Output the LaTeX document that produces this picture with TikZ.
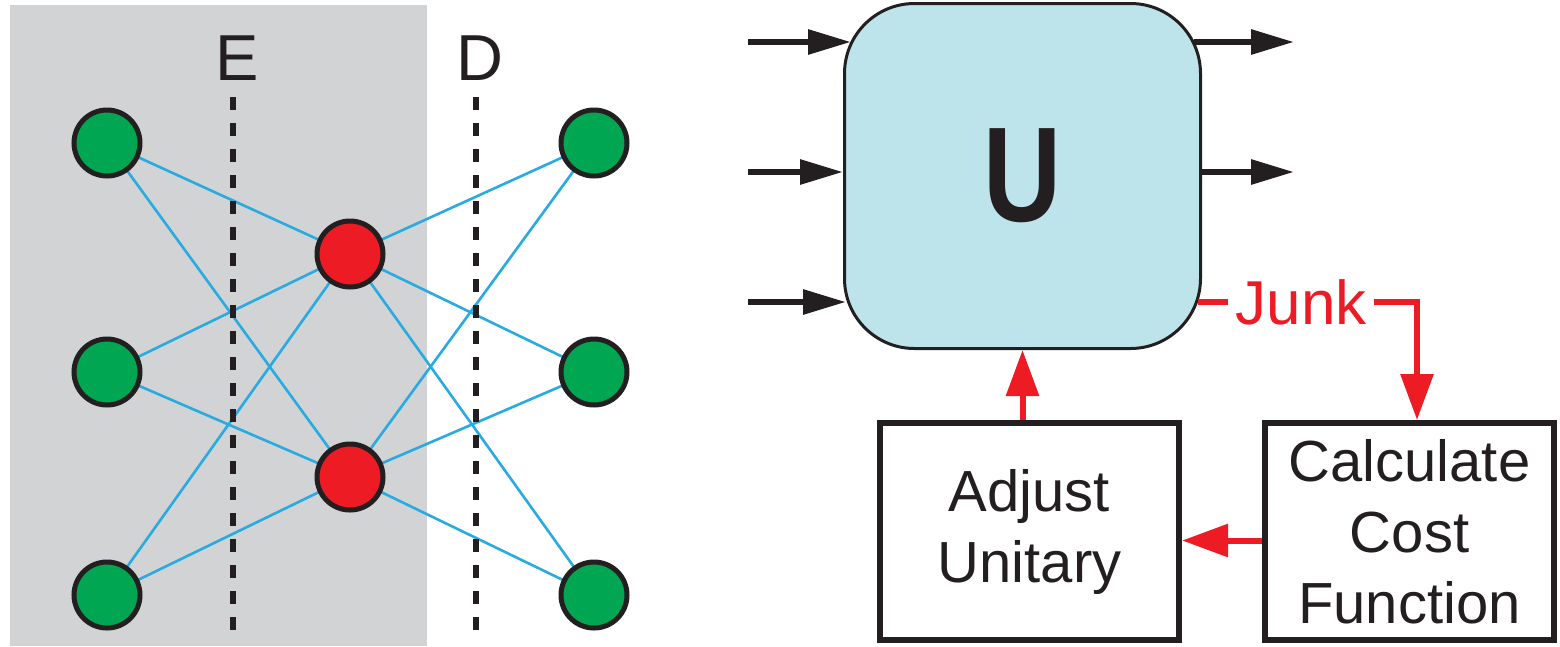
\documentclass[tikz,border=0pt]{standalone}
\usepackage{fontspec}
\setmainfont{Liberation Sans}
\usetikzlibrary{arrows.meta,backgrounds}

\definecolor{panelgray}{HTML}{D1D3D4}
\definecolor{qgreen}{HTML}{00A651}
\definecolor{qred}{HTML}{ED1C24}
\definecolor{linkblue}{HTML}{29ABE2}
\definecolor{ufill}{HTML}{BDE3EB}
\definecolor{ink}{HTML}{231F20}

\tikzset{
  qubit/.style={circle, draw=ink, line width=5pt, minimum size=66pt, inner sep=0pt},
  gnode/.style={qubit, fill=qgreen},
  rnode/.style={qubit, fill=qred},
  link/.style={linkblue, line width=2.6pt},
  cutline/.style={ink, line width=6pt, dash pattern=on 13pt off 13pt},
  cutlabel/.style={text=ink, font=\fontsize{65}{65}\selectfont, inner sep=0pt},
  ubox/.style={draw=ink, fill=ufill, line width=3pt, rounded corners=70pt,
    minimum width=356pt, minimum height=345pt, inner sep=0pt,
    font=\bfseries\fontsize{135}{135}\selectfont, text=ink},
  stepbox/.style={draw=ink, line width=6pt, inner sep=0pt, align=center,
    minimum height=217pt, font=\fontsize{58}{71}\selectfont, text=ink},
  wire/.style={ink, line width=6pt, -{Triangle[length=43pt,width=24pt]}},
  fb/.style={qred, line width=6pt},
  fbarrow/.style={fb, -{Triangle[length=46pt,width=32pt]}},
  junktext/.style={text=qred, font=\fontsize{62}{62}\selectfont, inner ysep=0pt, inner xsep=7pt}
}

\begin{document}
\begin{tikzpicture}[x=1pt,y=-1pt]
\useasboundingbox (0,0) rectangle (1560,646);

% shaded half of the network
\begin{pgfonlayer}{background}
  \fill[panelgray] (10,5) rectangle (427,646);
\end{pgfonlayer}

% network nodes
\node[gnode] (l1) at (107,143) {};
\node[gnode] (l2) at (107,372) {};
\node[gnode] (l3) at (107,595) {};
\node[rnode] (r1) at (350,254) {};
\node[rnode] (r2) at (350,477) {};
\node[gnode] (o1) at (594,143) {};
\node[gnode] (o2) at (594,372) {};
\node[gnode] (o3) at (594,595) {};

% cut labels
\node[cutlabel] (elab) at (237,58) {E};
\node[cutlabel] (dlab) at (480,58) {D};
\coordinate (etop) at (233,97);
\coordinate (ebot) at (233,635);
\coordinate (dtop) at (476,97);
\coordinate (dbot) at (476,635);

\begin{pgfonlayer}{background}
  \foreach \g in {l1,l2,l3,o1,o2,o3}{
    \draw[link] (\g.center) -- (r1.center);
    \draw[link] (\g.center) -- (r2.center);
  }
  \draw[cutline] (etop) -- (ebot);
  \draw[cutline] (dtop) -- (dbot);
\end{pgfonlayer}

% unitary block
\node[ubox] (U) at (1022.5,176) {\scalebox{0.8}[1]{U}};

\coordinate (in1) at (748,42);
\coordinate (in2) at (748,172);
\coordinate (in3) at (748,302);
\coordinate (out1) at (1294,42);
\coordinate (out2) at (1294,172);

\draw[wire, shorten >=-8pt] (in1) -- (in1 -| U.west);
\draw[wire] (in2) -- (in2 -| U.west);
\draw[wire, shorten >=-3pt] (in3) -- (in3 -| U.west);
\draw[wire, shorten <=-8pt] (out1 -| U.east) -- (out1);
\draw[wire] (out2 -| U.east) -- (out2);

% optimisation loop
\node[stepbox, minimum width=299pt] (adj) at (1029.5,531.5) {Adjust\\Unitary};
\node[stepbox, minimum width=289pt] (calc) at (1409.5,531.5) {Calculate\\Cost\\Function};

\node[junktext] (junk) at (1301,302) {Junk};
\coordinate (jturn) at (1417,302);

\draw[fb, shorten <=-4pt] (junk.west -| U.east) -- (junk.west);
\draw[fbarrow] (junk.east) -- (jturn) -- (calc.north -| jturn);
\draw[fbarrow] ([yshift=-9pt]calc.west) -- ([yshift=-9pt]adj.east);
\draw[fbarrow] (adj.north -| U.south) -- (U.south);
\end{tikzpicture}
\end{document}
